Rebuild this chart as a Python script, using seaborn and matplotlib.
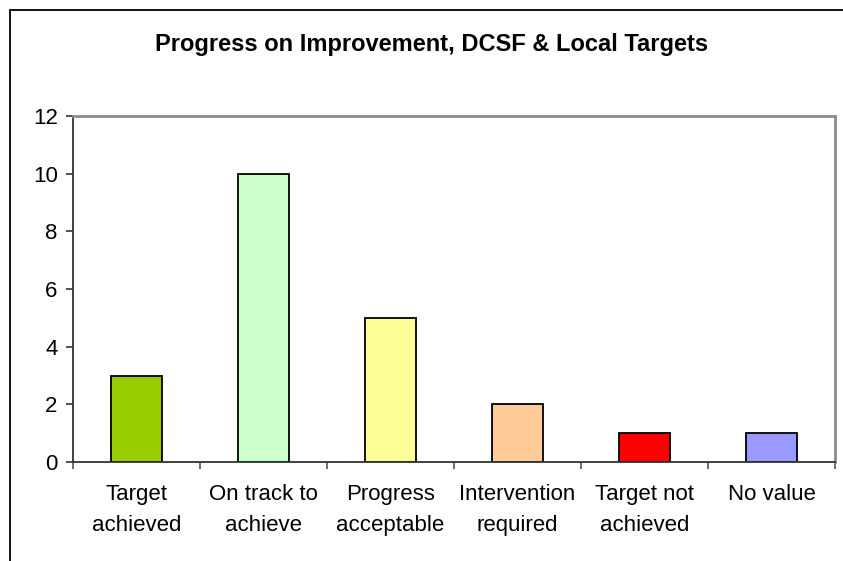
import numpy as np
import pandas as pd
import matplotlib
matplotlib.use("Agg")
import matplotlib.pyplot as plt
import seaborn as sns
from matplotlib.lines import Line2D

# ---------------------------------------------------------------
# data
# ---------------------------------------------------------------
categories = ["Target\nachieved", "On track to\nachieve", "Progress\nacceptable",
              "Intervention\nrequired", "Target not\nachieved", "No value"]
counts = [3, 10, 5, 2, 1, 1]
bar_colors = ["#99CC00", "#CCFFCC", "#FFFF99", "#FFCC99", "#FF0000", "#9999FF"]
y_ticks = [0, 2, 4, 6, 8, 10, 12]

df = pd.DataFrame({"category": categories, "count": counts})

sns.set_style("white")
plt.rcParams["font.family"] = ["Liberation Sans", "DejaVu Sans"]
plt.rcParams["text.color"] = "black"
plt.rcParams["xtick.labelcolor"] = "black"
plt.rcParams["ytick.labelcolor"] = "black"

fig = plt.figure(figsize=(8.43, 5.61), dpi=100)
ax = fig.add_axes([73 / 843, 1 - 462 / 561, (835 - 73) / 843, (462 - 116) / 561])

sns.barplot(data=df, x="category", y="count", hue="category", palette=bar_colors,
            legend=False, width=0.4, edgecolor="black", linewidth=1.3,
            saturation=1, ax=ax)

ax.set_ylim(0, 12)
ax.set_xlim(-0.5, len(categories) - 0.5)
ax.set_yticks(y_ticks)
ax.set_xlabel("")
ax.set_ylabel("")

# labels centred under bars, tick marks at category boundaries
ax.set_xticks(range(len(categories)))
ax.set_xticklabels(categories, fontsize=16, linespacing=1.6)
ax.tick_params(axis="x", length=0, pad=16, labelcolor="black")
ax.set_xticks(np.arange(-0.5, len(categories)), minor=True)
ax.tick_params(axis="x", which="minor", direction="out", length=5, width=1.2,
               color="#555555", bottom=True)
ax.tick_params(axis="y", direction="out", length=5, width=1.2, color="#333333",
               labelsize=16, pad=6, left=True, labelcolor="black")

for side in ["left", "bottom"]:
    ax.spines[side].set_color("#333333")
    ax.spines[side].set_linewidth(1.3)
for side in ["top", "right"]:
    ax.spines[side].set_color("#8c8c8c")
    ax.spines[side].set_linewidth(2)

fig.text(432 / 843, 1 - 45 / 561, "Progress on Improvement, DCSF & Local Targets",
         ha="center", va="center", fontsize=17, fontweight="bold", color="black")

# outer chart frame (partially visible)
fig.add_artist(Line2D([10 / 843, 10 / 843], [0, 1 - 10 / 561], color="black", lw=1.3))
fig.add_artist(Line2D([10 / 843, 1], [1 - 10 / 561, 1 - 10 / 561], color="black", lw=1.3))

fig.savefig("out.png", dpi=100)
